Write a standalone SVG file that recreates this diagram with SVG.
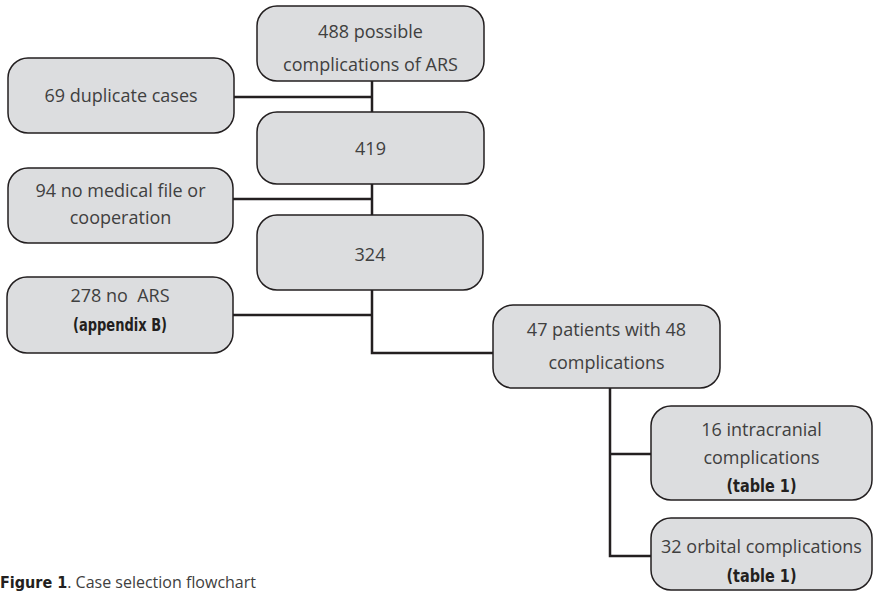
<svg xmlns="http://www.w3.org/2000/svg" width="873" height="592" viewBox="0 0 873 592">
<style>
.box{fill:#dcdddf;stroke:#231f20;stroke-width:1.5}
.t{font-family:"Open Sans","Noto Sans",sans-serif;font-size:18px;fill:#404040;text-anchor:middle}
.b{font-family:"DejaVu Sans Condensed","Liberation Sans",sans-serif;font-weight:bold;font-size:17.5px;fill:#231f20;text-anchor:middle}
.c{fill:none;stroke:#231f20;stroke-width:2.5}
.cap{font-family:"Open Sans","Noto Sans",sans-serif;font-size:16px;fill:#404040}
</style>
<rect width="873" height="592" fill="#ffffff"/>
<g id="connectors">
<path class="c" d="M372 81V112M234 97H372"/>
<path class="c" d="M372 184V215M233 199H372"/>
<path class="c" d="M372 290V353H493M233 315H372"/>
<path class="c" d="M610 388V556H651M610 454H651"/>
</g>
<g id="n488"><rect class="box" x="257" y="6" width="227" height="75" rx="20"/><text class="t" x="370.5" y="38">488 possible</text><text class="t" x="370.5" y="71">complications of ARS</text></g>
<g id="n69"><rect class="box" x="8" y="58" width="226" height="75" rx="20"/><text class="t" x="121" y="102">69 duplicate cases</text></g>
<g id="n419"><rect class="box" x="257" y="112" width="227" height="72" rx="20"/><text class="t" x="370.5" y="155">419</text></g>
<g id="n94"><rect class="box" x="8" y="168" width="225" height="75" rx="20"/><text class="t" x="120.5" y="197">94 no medical file or</text><text class="t" x="120.5" y="224">cooperation</text></g>
<g id="n324"><rect class="box" x="257" y="215" width="226" height="75" rx="20"/><text class="t" x="370" y="261">324</text></g>
<g id="n278"><rect class="box" x="7" y="277" width="226" height="76" rx="20"/><text class="t" x="120" y="302" xml:space="preserve">278 no  ARS</text><text class="b" x="120" y="331" textLength="94" lengthAdjust="spacingAndGlyphs">(appendix B)</text></g>
<g id="n47"><rect class="box" x="493" y="305" width="227" height="83" rx="20"/><text class="t" x="606.5" y="336">47 patients with 48</text><text class="t" x="606.5" y="369">complications</text></g>
<g id="n16"><rect class="box" x="651" y="406" width="221" height="94" rx="20"/><text class="t" x="761.5" y="436">16 intracranial</text><text class="t" x="761.5" y="464">complications</text><text class="b" x="761.5" y="492" textLength="70" lengthAdjust="spacingAndGlyphs">(table 1)</text></g>
<g id="n32"><rect class="box" x="651" y="518" width="221" height="72" rx="20"/><text class="t" x="761.5" y="553">32 orbital complications</text><text class="b" x="761.5" y="582" textLength="70" lengthAdjust="spacingAndGlyphs">(table 1)</text></g>
<text class="cap" x="0" y="588"><tspan font-family="DejaVu Sans Condensed" font-weight="bold" fill="#231f20">Figure 1</tspan>. Case selection flowchart</text>
</svg>
